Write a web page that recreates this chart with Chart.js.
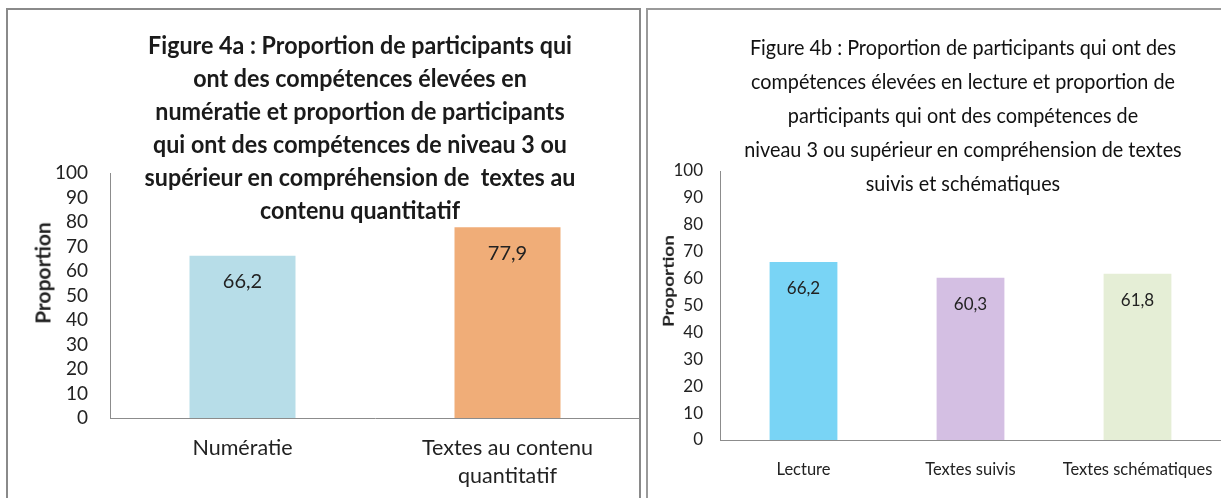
<!DOCTYPE html>
<html lang="fr">
<head>
<meta charset="utf-8">
<script src="https://cdn.jsdelivr.net/npm/chart.js@4"></script>
<style>
    html, body { margin: 0; padding: 0; background: #fff; }
    body { width: 1221px; height: 498px; position: relative; overflow: hidden; font-family: Lato, "Open Sans", sans-serif; color: #222; }
    .panel { position: absolute; top: 8px; height: 520px; border: 2px solid #8a8a8a; border-bottom: none; box-sizing: border-box; }
    #panel-a { left: 6px; width: 635px; }
    #panel-b { left: 646px; width: 600px; border-color: #9a9a9a; }
    .box { position: absolute; top: 0; height: 498px; }
    #box-a { left: 0; width: 640px; }
    #box-b { left: 640px; width: 581px; }
    .title { position: absolute; text-align: center; white-space: nowrap; color: #1a1a1a; }
    #title-a { left: 360px; top: 28px; font-weight: 700; font-size: 24px; line-height: 33px; transform: translateX(-50%) scaleX(0.97); }
    #title-b { left: 963px; top: 30px; font-size: 22px; line-height: 34px; transform: translateX(-50%) scaleX(0.9); color: #111; }
    .ytitle { position: absolute; font-weight: 700; white-space: nowrap; }
    #ytitle-a { left: 42px; top: 273px; font-size: 21px; transform: translate(-50%, -50%) rotate(-90deg); }
    #ytitle-b { left: 668px; top: 281px; font-size: 19px; transform: translate(-50%, -50%) rotate(-90deg) scale(1, 0.8); }
</style>
</head>
<body>
<div class="panel" id="panel-a"></div>
<div class="panel" id="panel-b"></div>
<div class="box" id="box-a"><canvas id="chart-a"></canvas></div>
<div class="box" id="box-b"><canvas id="chart-b"></canvas></div>

<div class="title" id="title-a">Figure 4a : Proportion de participants qui<br>ont des compétences élevées en<br>numératie et proportion de participants<br>qui ont des compétences de niveau 3 ou<br>supérieur en compréhension de&nbsp; textes au<br>contenu quantitatif</div>
<div class="title" id="title-b">Figure 4b : Proportion de participants qui ont des<br>compétences élevées en lecture et proportion de<br>participants qui ont des compétences de<br>niveau 3 ou supérieur en compréhension de textes<br>suivis et schématiques</div>
<div class="ytitle" id="ytitle-a">Proportion</div>
<div class="ytitle" id="ytitle-b">Proportion</div>

<script>
// ── Data ─────────────────────────────────────────────────
const catsA   = [['Numératie'], ['Textes au contenu', 'quantitatif']];
const valsA   = [66.2, 77.9];
const colorsA = ['#b7dde8', '#f0ad78'];

const catsB   = ['Lecture', 'Textes suivis', 'Textes schématiques'];
const valsB   = [66.2, 60.3, 61.8];
const colorsB = ['#79d4f5', '#d4bfe3', '#e5eed6'];

const yTicks  = [0, 10, 20, 30, 40, 50, 60, 70, 80, 90, 100];

// ── Value labels inside the bars (comma decimal) ─────────
const valueLabels = {
    id: 'valueLabels',
    afterDatasetsDraw(chart, args, opts) {
        const ctx  = chart.ctx;
        const meta = chart.getDatasetMeta(0);
        ctx.save();
        ctx.font = opts.font;
        ctx.fillStyle = '#222';
        ctx.textAlign = 'center';
        ctx.textBaseline = 'middle';
        meta.data.forEach((bar, i) => {
            const v = chart.data.datasets[0].data[i];
            ctx.fillText(v.toFixed(1).replace('.', ','), bar.x, bar.y + opts.offset);
        });
        ctx.restore();
    }
};

function makeChart(id, cats, vals, colors, s) {
    return new Chart(document.getElementById(id), {
        type: 'bar',
        data: {
            labels: cats,
            datasets: [{ data: vals, backgroundColor: colors, borderWidth: 0,
                         barPercentage: s.barPct, categoryPercentage: 1 }]
        },
        options: {
            responsive: true,
            maintainAspectRatio: false,
            animation: false,
            layout: { padding: { top: s.top, left: 0, right: 0, bottom: 0 } },
            plugins: {
                legend: { display: false },
                tooltip: { enabled: false },
                valueLabels: { font: s.valFont, offset: s.valOffset }
            },
            scales: {
                y: {
                    min: 0, max: 100,
                    afterBuildTicks: (sc) => { sc.ticks = yTicks.map(v => ({ value: v })); },
                    afterFit: (sc) => { sc.width = s.yWidth; },
                    grid: { display: false, drawTicks: false },
                    border: { display: true, color: '#8c8c8c', width: 1 },
                    ticks: { padding: s.yPad, color: '#222', autoSkip: false,
                             font: { family: s.family, size: s.tickSize } }
                },
                x: {
                    // keep the plot running to the canvas edge even if the last label overflows
                    afterFit: (sc) => { sc.height = s.xHeight; sc.paddingLeft = 0; sc.paddingRight = 0; },
                    grid: { display: false, drawTicks: false },
                    border: { display: true, color: '#8c8c8c', width: 1 },
                    ticks: { padding: s.xPad, color: '#222', maxRotation: 0, autoSkip: false,
                             font: { family: s.family, size: s.xSize, lineHeight: s.xLine } }
                }
            }
        },
        plugins: [valueLabels]
    });
}

makeChart('chart-a', catsA, valsA, colorsA, {
    barPct: 0.4, top: 173, yWidth: 110, xHeight: 80, yPad: 22, xPad: 16,
    family: 'Lato', tickSize: 19, xSize: 21.5, xLine: 1.3,
    valFont: '20px Lato', valOffset: 26
});

makeChart('chart-b', catsB, valsB, colorsB, {
    barPct: 0.406, top: 171, yWidth: 80, xHeight: 58, yPad: 17, xPad: 20,
    family: 'Lato', tickSize: 17, xSize: 16.5, xLine: 1.2,
    valFont: '17px Lato', valOffset: 27
});
</script>
</body>
</html>
